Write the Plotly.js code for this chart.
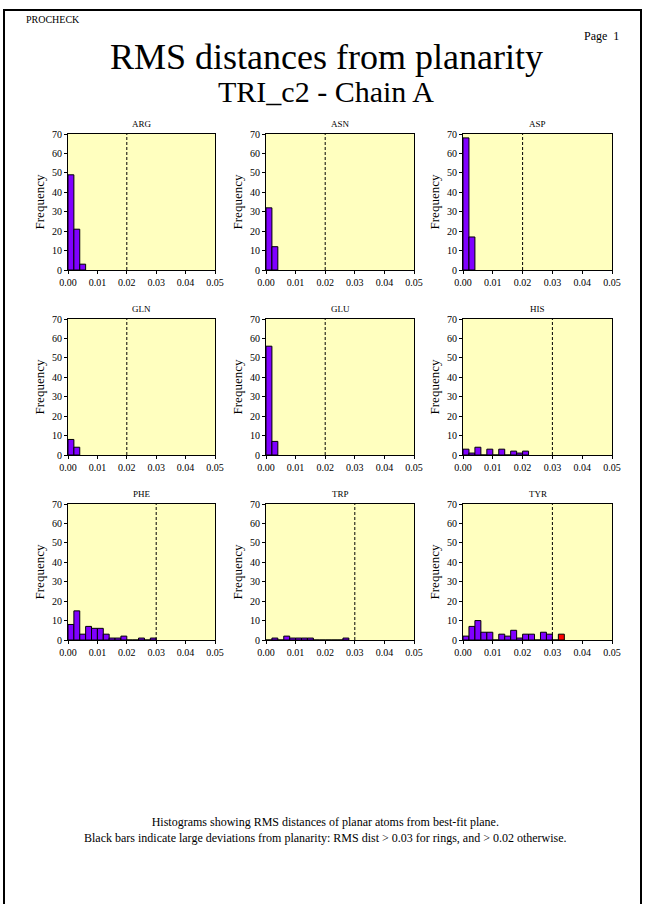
<!DOCTYPE html>
<html>
<head>
<meta charset="utf-8">
<script src="https://cdn.plot.ly/plotly-3.0.1.min.js"></script>
<style>html,body{margin:0;padding:0;background:#fff;}#chart{width:645px;height:904px;}</style>
</head>
<body>
<div id="chart"></div>
<script>
// ---- data (counts per 0.002 bin starting at 0.000) ----
var residues = ["ARG","ASN","ASP","GLN","GLU","HIS","PHE","TRP","TYR"];
var ARG = [49, 21, 3];
var ASN = [32, 12];
var ASP = [68, 17];
var GLN = [8, 4];
var GLU = [56, 7];
var HIS = [3, 1, 4, 0, 3, 0, 3, 0, 2, 1, 2];
var PHE = [8, 15, 3, 7, 6, 6, 3, 1, 1, 2, 0, 0, 1, 0, 1];
var TRP = [0, 1, 0, 2, 1, 1, 1, 1, 0, 0, 0, 0, 0, 1];
var TYR = [2, 7, 10, 4, 4, 0, 3, 2, 5, 1, 3, 3, 0, 4, 3, 0, 3];
var limits = [0.02, 0.02, 0.02, 0.02, 0.02, 0.03, 0.03, 0.03, 0.03];
var binWidth = 0.002;
var xTicks = [0, 0.01, 0.02, 0.03, 0.04, 0.05];
var xTickText = ["0.00","0.01","0.02","0.03","0.04","0.05"];
var yTicks = [0, 10, 20, 30, 40, 50, 60, 70];

var counts = {ARG:ARG, ASN:ASN, ASP:ASP, GLN:GLN, GLU:GLU, HIS:HIS, PHE:PHE, TRP:TRP, TYR:TYR};

// ---- layout geometry (pixels) ----
var W = 645, H = 904;
var colX = [[68, 215], [266, 414], [463, 612]];
var rowY = [[134, 270], [319, 455], [504, 640]];
function px(x){ return x / W; }
function py(y){ return 1 - y / H; }

var FONT = "Times New Roman";
var traces = [];
var layout = {
  width: W, height: H,
  margin: {l:0, r:0, t:0, b:0},
  paper_bgcolor: "#ffffff",
  showlegend: false,
  bargap: 0,
  font: {family: FONT, color: "#000"},
  shapes: [],
  annotations: []
};

residues.forEach(function(name, k){
  var r = Math.floor(k / 3), c = k % 3;
  var idx = k + 1;
  var xa = "x" + (idx === 1 ? "" : idx), ya = "y" + (idx === 1 ? "" : idx);
  var xkey = "xaxis" + (idx === 1 ? "" : idx), ykey = "yaxis" + (idx === 1 ? "" : idx);
  var data = counts[name];
  var xs = [], cols = [];
  for (var i = 0; i < data.length; i++) {
    var lo = i * binWidth;
    xs.push(lo + binWidth / 2);
    cols.push(lo >= limits[k] - 1e-9 ? "#ff0000" : "#8000ff");
  }
  traces.push({
    type: "bar", x: xs, y: data, width: binWidth,
    xaxis: xa, yaxis: ya,
    marker: {color: cols, line: {color: "#000", width: 1}},
    hoverinfo: "skip"
  });
  layout[xkey] = {
    domain: [px(colX[c][0]), px(colX[c][1])],
    anchor: ya, range: [0, 0.05],
    tickvals: xTicks, ticktext: xTickText,
    ticks: "outside", ticklen: 3, tickwidth: 1, tickcolor: "#000",
    showline: true, mirror: true, linecolor: "#000", linewidth: 1,
    showgrid: false, zeroline: false,
    tickfont: {family: FONT, size: 10, color: "#000"}
  };
  layout[ykey] = {
    domain: [py(rowY[r][1]), py(rowY[r][0])],
    anchor: xa, range: [0, 70],
    tickvals: yTicks,
    ticks: "outside", ticklen: 3, tickwidth: 1, tickcolor: "#000",
    showline: true, mirror: true, linecolor: "#000", linewidth: 1,
    showgrid: false, zeroline: false,
    tickfont: {family: FONT, size: 10, color: "#000"},
    title: {text: "Frequency", font: {family: FONT, size: 13, color: "#000"}, standoff: 4}
  };
  // yellow plot background
  layout.shapes.push({
    type: "rect", xref: xa + " domain", yref: ya + " domain",
    x0: 0, x1: 1, y0: 0, y1: 1,
    fillcolor: "#ffffbf", line: {width: 0}, layer: "below"
  });
  // dashed limit line
  layout.shapes.push({
    type: "line", xref: xa, yref: ya + " domain",
    x0: limits[k], x1: limits[k], y0: 0, y1: 1,
    line: {color: "#000", width: 1, dash: "3px,2px"}, layer: "above"
  });
  // panel title
  layout.annotations.push({
    text: name, xref: "paper", yref: "paper",
    x: px((colX[c][0] + colX[c][1]) / 2), y: py(rowY[r][0] - 10),
    xanchor: "center", yanchor: "middle", showarrow: false,
    font: {family: FONT, size: 9, color: "#000"}
  });
});

// page border
layout.shapes.push({
  type: "rect", xref: "paper", yref: "paper",
  x0: px(4), x1: px(641), y0: py(960), y1: py(10),
  line: {color: "#000", width: 2}, fillcolor: "rgba(0,0,0,0)"
});

function txt(s, x, y, size, anchor){
  layout.annotations.push({
    text: s, xref: "paper", yref: "paper", x: px(x), y: py(y),
    xanchor: anchor || "center", yanchor: "middle", showarrow: false,
    font: {family: FONT, size: size, color: "#000"}
  });
}
txt("PROCHECK", 24, 19, 10, "left");
txt("Page  1", 621, 36, 12, "right");
txt("RMS distances from planarity", 326, 57, 36);
txt("TRI_c2 - Chain A", 326, 91, 30);
txt("Histograms showing RMS distances of planar atoms from best-fit plane.<br>Black bars indicate large deviations from planarity: RMS dist &gt; 0.03 for rings, and &gt; 0.02 otherwise.", 325, 830, 12);

Plotly.newPlot("chart", traces, layout, {staticPlot: true, displayModeBar: false});
</script>
</body>
</html>
